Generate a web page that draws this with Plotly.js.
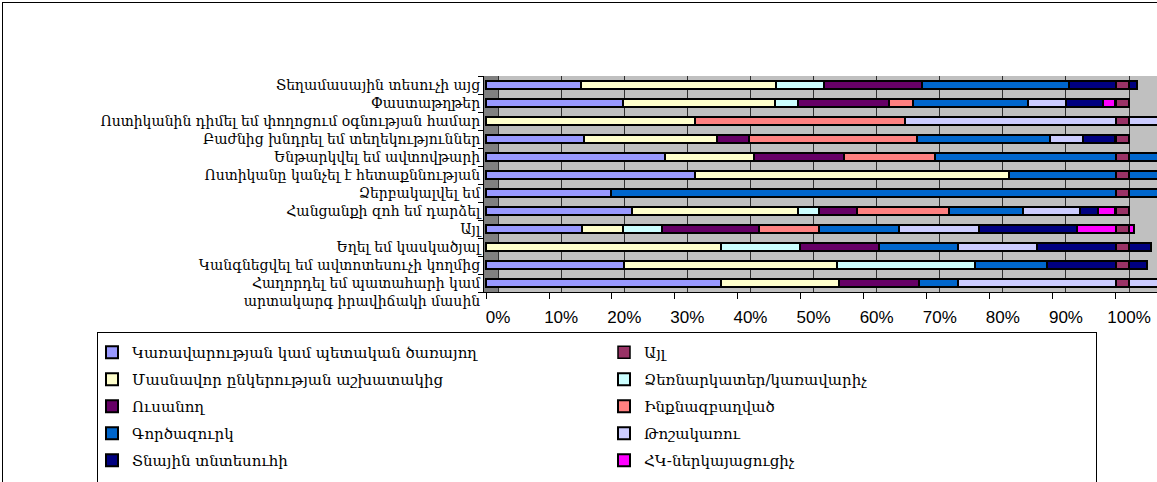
<!DOCTYPE html>
<html>
<head>
<meta charset="utf-8">
<script src="https://cdn.plot.ly/plotly-3.0.1.min.js"></script>
<style>
  html, body { margin: 0; padding: 0; overflow: hidden; background: #fff; }
  #chart { position: absolute; left: 0; top: 0; }
  #frame { position: absolute; left: 2px; top: 2px; width: 1300px; height: 600px; border: 1px solid #000; pointer-events: none; }
  #legendbox { position: absolute; left: 97px; top: 332px; width: 998px; height: 160px; border: 1px solid #000; pointer-events: none; }
</style>
</head>
<body>
<div id="chart"></div>
<div id="frame"></div>
<div id="legendbox"></div>
<script>
// Categories (top to bottom)
const categories = [
  "Տեղամասային տեսուչի այց",
  "Փաստաթղթեր",
  "Ոստիկանին դիմել եմ փողոցում օգնության համար",
  "Բաժնից խնդրել եմ տեղեկություններ",
  "Ենթարկվել եմ ավտովթարի",
  "Ոստիկանը կանչել է հետաքննության",
  "Ձերբակալվել եմ",
  "Հանցանքի զոհ եմ դարձել",
  "Այլ",
  "Եղել եմ կասկածյալ",
  "Կանգնեցվել եմ ավտոտեսուչի կողմից",
  "Հաղորդել եմ պատահարի կամ<br>արտակարգ իրավիճակի մասին"
];

// Series names (legend order, row-wise over two columns as in the reference)
const seriesNames = [
  "Կառավարության կամ պետական ծառայող",
  "Այլ",
  "Մասնավոր ընկերության աշխատակից",
  "Ձեռնարկատեր/կառավարիչ",
  "Ուսանող",
  "Ինքնազբաղված",
  "Գործազուրկ",
  "Թոշակառու",
  "Տնային տնտեսուհի",
  "ՀԿ-ներկայացուցիչ"
];

// Series values (% per category, null = absent)
const karavarutyun = [15.0, 21.7, null, 15.5, 28.4, 33.2, 19.8, 23.1, 15.3, null, 21.9, 37.3];
const ayl          = [2.1, 2.1, 2.1, 2.1, 2.1, 2.1, 2.1, 2.1, 2.1, 2.1, 2.1, 2.1];
const masnavor     = [31.1, 24.1, 33.2, 21.2, 14.2, 49.9, null, 26.5, 6.4, 37.3, 33.8, 18.7];
const dzernarkater = [7.5, 3.8, null, null, null, null, null, 3.2, 6.2, 12.5, 22.0, null];
const usanogh      = [15.6, 14.4, null, 5.1, 14.3, null, null, 6.1, 15.5, 12.6, null, 12.7];
const inknazbaghvac= [null, 3.8, 33.3, 26.6, 14.4, null, null, 14.6, 9.4, null, null, null];
const gorcazurk    = [23.3, 18.3, null, 21.1, 38.7, 26.9, 90.2, 11.8, 12.8, 12.6, 11.3, 6.3];
const toshakarru   = [null, 5.9, 43.5, 5.2, null, null, null, 9.0, 12.6, 12.4, null, 35.0];
const tnayin       = [10.8, 5.9, null, 5.1, null, null, null, 2.8, 15.6, 18.2, 15.9, null];
const hk           = [null, 1.9, null, null, null, null, null, 2.7, 9.1, null, null, null];

// Axis ticks
const tickValues = [0, 10, 20, 30, 40, 50, 60, 70, 80, 90, 100];
const tickLabels = ["0%", "10%", "20%", "30%", "40%", "50%", "60%", "70%", "80%", "90%", "100%"];

const colors = ["#9999FF", "#993366", "#FFFFCC", "#CCFFFF", "#660066", "#FF8080", "#0066CC", "#CCCCFF", "#000080", "#FF00FF"];

const values = [karavarutyun, ayl, masnavor, dzernarkater, usanogh, inknazbaghvac, gorcazurk, toshakarru, tnayin, hk];

const BW = 0.45;
const traces = [];
values.forEach((vals, i) => {
  const legendName = (i % 2 === 0) ? "legend" : "legend2";
  const t = {
    type: "bar", orientation: "h", name: seriesNames[i],
    y: categories, x: vals,
    xaxis: "x", yaxis: "y",
    width: BW,
    legend: legendName, legendgroup: "g" + i,
    marker: { color: colors[i], line: { color: "#000", width: 2 } },
    hoverinfo: "x+name"
  };
  if (i === 1) {
    // "Այլ": end faces drawn on the back-wall axis, ending at 100%
    t.xaxis = "x2";
    t.base = vals.map(v => 100 - v);
    t.marker = { color: colors[i], line: { color: "#000", width: 1.5 } };
  }
  traces.push(t);
});

// y tick labels: a multi-line label keeps its first line level with its bar
const yTickText = categories.map(c => c.indexOf("<br>") >= 0 ? "\u00A0<br>" + c : c);

const W = 1170, H = 482;
const legendFont = { family: "DejaVu Serif, serif", size: 15, color: "#000" };
const layout = {
  width: W, height: H,
  margin: { l: 484, r: 10, t: 76, b: 190, autoexpand: false },
  paper_bgcolor: "#FFFFFF",
  plot_bgcolor: "#C0C0C0",
  barmode: "stack",
  showlegend: true,
  font: { family: "DejaVu Serif, serif", color: "#000" },
  xaxis: {
    range: [-0.32, 107.0],
    showgrid: false, zeroline: false,
    showline: true, linecolor: "#000", linewidth: 1,
    ticks: "outside", ticklen: 6, tickcolor: "#000",
    tickvals: tickValues, showticklabels: false,
    automargin: false,
    fixedrange: true
  },
  xaxis2: {
    overlaying: "x", anchor: "y", side: "bottom",
    range: [-2.23, 104.9],
    showgrid: true, gridcolor: "#303030", gridwidth: 1,
    zeroline: false, showline: false,
    ticks: "outside", ticklen: 10, tickcolor: "rgba(0,0,0,0)",
    tickvals: tickValues, ticktext: tickLabels,
    tickfont: { family: "Liberation Sans, Arial, sans-serif", size: 17, color: "#000" },
    automargin: false,
    fixedrange: true
  },
  yaxis: {
    type: "category",
    autorange: "reversed",
    showgrid: false, zeroline: false,
    showline: true, linecolor: "#000", linewidth: 1,
    ticks: "outside", tickson: "boundaries", ticklen: 5, tickcolor: "#000",
    tickvals: categories, ticktext: yTickText,
    tickfont: { family: "DejaVu Serif, serif", size: 14, color: "#000" },
    automargin: false,
    fixedrange: true
  },
  shapes: [{
    type: "rect", xref: "x", yref: "paper", layer: "below",
    x0: -0.32, x1: 1.9, y0: 0, y1: 1,
    fillcolor: "#808080", line: { width: 0 }
  }],
  legend: {
    orientation: "v",
    xref: "container", yref: "container",
    x: 92 / W, y: 1 - 336 / H, xanchor: "left", yanchor: "top",
    bgcolor: "rgba(0,0,0,0)", borderwidth: 0,
    tracegroupgap: 4.5,
    font: legendFont,
    traceorder: "grouped"
  },
  legend2: {
    orientation: "v",
    xref: "container", yref: "container",
    x: 604 / W, y: 1 - 336 / H, xanchor: "left", yanchor: "top",
    bgcolor: "rgba(0,0,0,0)", borderwidth: 0,
    tracegroupgap: 4.5,
    font: legendFont,
    traceorder: "grouped"
  }
};

Plotly.newPlot("chart", traces, layout, { displayModeBar: false, staticPlot: true });
</script>
</body>
</html>
